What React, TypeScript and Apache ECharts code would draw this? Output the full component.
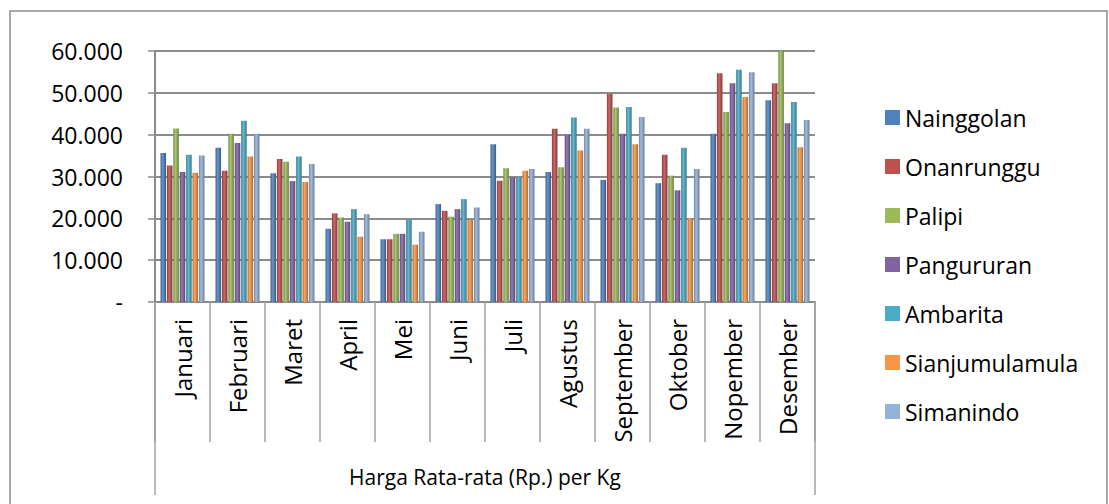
import React, { useEffect, useRef } from "react";
import * as echarts from "echarts";

const months = ["Januari", "Februari", "Maret", "April", "Mei", "Juni", "Juli", "Agustus", "September", "Oktober", "Nopember", "Desember"];
const groupLabel = ["Harga Rata-rata (Rp.) per Kg"];
const yTicks = [0, 10000, 20000, 30000, 40000, 50000, 60000];

const nainggolan = [35600, 36900, 30800, 17500, 15000, 23400, 37700, 31100, 29200, 28400, 40200, 48200];
const onanrunggu = [32600, 31400, 34200, 21200, 15000, 21800, 29000, 41400, 49800, 35200, 54700, 52300];
const palipi = [41500, 40200, 33500, 20200, 16300, 20400, 32000, 32200, 46500, 30200, 45400, 60400];
const pangururan = [31100, 38000, 28900, 19200, 16300, 22200, 29800, 40000, 40200, 26700, 52300, 42700];
const ambarita = [35200, 43300, 34800, 22200, 19600, 24600, 29800, 44100, 46600, 36900, 55500, 47800];
const sianjumulamula = [30900, 34800, 28700, 15600, 13700, 19600, 31400, 36200, 37700, 20000, 49000, 37000];
const simanindo = [35000, 40200, 33000, 21000, 16800, 22600, 31800, 41400, 44200, 31800, 54900, 43500];

const seriesNames = ["Nainggolan", "Onanrunggu", "Palipi", "Pangururan", "Ambarita", "Sianjumulamula", "Simanindo"];
const seriesData = [nainggolan, onanrunggu, palipi, pangururan, ambarita, sianjumulamula, simanindo];
const seriesColors = ["#4F81BD", "#C0504D", "#9BBB59", "#8064A2", "#4BACC6", "#F79646", "#95B3D7"];

function shade(hex: string, f: number): string {
  const n = parseInt(hex.slice(1), 16);
  let r = (n >> 16) & 255, g = (n >> 8) & 255, b = n & 255;
  if (f < 0) {
    r = Math.round(r * (1 + f)); g = Math.round(g * (1 + f)); b = Math.round(b * (1 + f));
  } else {
    r = Math.round(r + (255 - r) * f); g = Math.round(g + (255 - g) * f); b = Math.round(b + (255 - b) * f);
  }
  return "rgb(" + r + "," + g + "," + b + ")";
}

const FONT = "'Open Sans', 'DejaVu Sans', sans-serif";

export default function App() {
  const ref = useRef<HTMLDivElement>(null);
  useEffect(() => {
    if (!ref.current) return;
    const chart = echarts.init(ref.current, null, { renderer: "svg" });
    const option: any = {
      animation: false,
      backgroundColor: "#ffffff",
      textStyle: { fontFamily: FONT },
      grid: { left: 155, right: 294, top: 51, bottom: 202, containLabel: false },
      legend: {
        orient: "vertical",
        left: 880,
        top: 101,
        itemWidth: 15,
        itemHeight: 15,
        itemGap: 26,
        icon: "rect",
        textStyle: { fontFamily: FONT, fontSize: 23, color: "#000", lineHeight: 22, padding: [0, 0, 0, 0] },
        data: seriesNames.map((n, i) => ({ name: n, itemStyle: { color: seriesColors[i] } })),
      },
      xAxis: [
        {
          type: "category",
          data: months,
          position: "bottom",
          axisLine: { show: true, lineStyle: { color: "#8c8c8c", width: 2 } },
          axisTick: { show: true, length: 140, lineStyle: { color: "#a0a0a0", width: 1.5 } },
          axisLabel: { rotate: 90, margin: 17, fontSize: 24, color: "#000", fontFamily: FONT },
        },
        {
          type: "category",
          data: groupLabel,
          position: "bottom",
          axisLine: { show: false },
          axisTick: { show: true, length: 193, lineStyle: { color: "#a0a0a0", width: 1.5 } },
          axisLabel: { margin: 164, fontSize: 21, color: "#000", fontFamily: FONT },
        },
      ],
      yAxis: {
        type: "value",
        min: 0,
        max: 60000,
        interval: 10000,
        axisLine: { show: true, lineStyle: { color: "#8c8c8c", width: 2 } },
        axisTick: { show: true, length: 7, lineStyle: { color: "#8c8c8c", width: 1.5 } },
        axisLabel: {
          margin: 32,
          fontSize: 23,
          color: "#000",
          fontFamily: FONT,
          customValues: yTicks,
          formatter: (v: number) => (v === 0 ? "-" : String(v / 1000) + ".000"),
        },
        splitLine: { show: true, lineStyle: { color: "#8c8c8c", width: 2 } },
      },
      series: seriesNames.map((name, i) => ({
        name,
        type: "bar",
        xAxisIndex: 0,
        data: seriesData[i],
        barCategoryGap: "20%",
        barGap: "15%",
        itemStyle: {
          color: {
            type: "linear", x: 0, y: 0, x2: 1, y2: 0,
            colorStops: [
              { offset: 0, color: shade(seriesColors[i], -0.25) },
              { offset: 0.4, color: shade(seriesColors[i], 0.15) },
              { offset: 1, color: shade(seriesColors[i], -0.3) },
            ],
          },
        },
      })),
      graphic: [
        {
          type: "rect",
          shape: { x: 10, y: 11, width: 1097, height: 520 },
          style: { fill: "none", stroke: "#8c8c8c", lineWidth: 1.5 },
          silent: true,
        },
      ],
    };
    chart.setOption(option);
    return () => chart.dispose();
  }, []);
  return <div ref={ref} style={{ position: "fixed", left: 0, top: 0, width: 1109, height: 504 }} />;
}
